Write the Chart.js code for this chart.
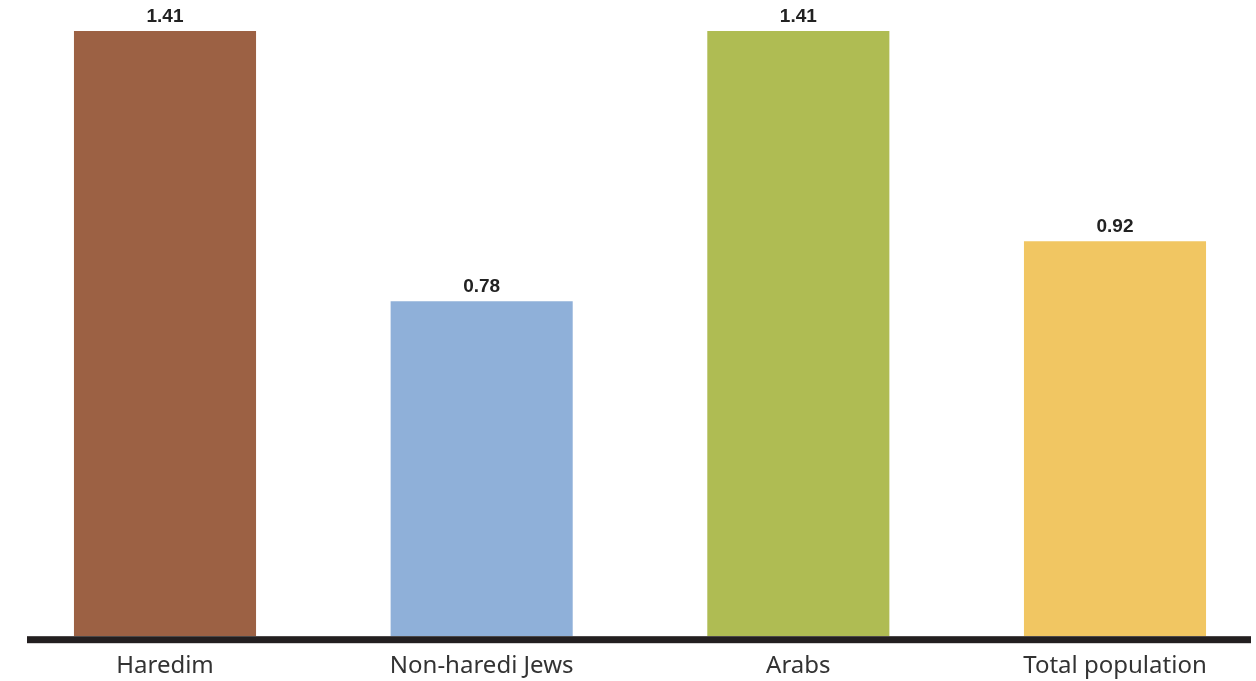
<!DOCTYPE html>
<html>
<head>
<meta charset="utf-8">
<script src="https://cdn.jsdelivr.net/npm/chart.js@4.4.0/dist/chart.umd.min.js"></script>
<style>
html,body{margin:0;padding:0;background:#fff;overflow:hidden;width:1256px;height:681px;}
#wrap{position:absolute;left:0;top:0;width:1280px;height:681px;}
</style>
</head>
<body>
<div id="wrap"><canvas id="c"></canvas></div>
<script>
const categories = ["Haredim", "Non-haredi Jews", "Arabs", "Total population"];
const values = [1.41, 0.78, 1.41, 0.92];
const barColors = ["#9C6144", "#8FB0D9", "#AFBC53", "#F1C662"];

const valueLabels = {
  id: 'valueLabels',
  afterDatasetsDraw(chart) {
    const ctx = chart.ctx;
    const meta = chart.getDatasetMeta(0);
    ctx.save();
    ctx.font = 'bold 19px "Liberation Sans", Arial, sans-serif';
    ctx.fillStyle = '#222';
    ctx.textAlign = 'center';
    ctx.textBaseline = 'bottom';
    meta.data.forEach((bar, i) => {
      ctx.fillText(values[i].toFixed(2), bar.x, bar.y - 5);
    });
    ctx.restore();
  }
};

const baseLine = {
  id: 'baseLine',
  afterDatasetsDraw(chart) {
    const ctx = chart.ctx;
    const y = chart.chartArea.bottom;
    ctx.save();
    ctx.fillStyle = '#231F20';
    ctx.fillRect(27, y, 1251 - 27, 7);
    ctx.restore();
  }
};

new Chart(document.getElementById('c'), {
  type: 'bar',
  data: {
    labels: categories,
    datasets: [{
      data: values,
      backgroundColor: barColors,
      borderWidth: 0,
      barPercentage: 0.575,
      categoryPercentage: 1.0
    }]
  },
  options: {
    responsive: true,
    maintainAspectRatio: false,
    animation: false,
    events: [],
    layout: { padding: { left: 6.67, right: 6.67, top: 0, bottom: -16 } },
    plugins: { legend: { display: false }, tooltip: { enabled: false } },
    scales: {
      x: {
        grid: { display: false, drawTicks: false },
        border: { display: false },
        ticks: {
          padding: 16,
          color: '#333',
          font: { family: '"Noto Sans", sans-serif', size: 24 },
          maxRotation: 0,
          autoSkip: false
        }
      },
      y: {
        display: false,
        min: 0,
        max: 1.482
      }
    }
  },
  plugins: [valueLabels, baseLine]
});
</script>
</body>
</html>
